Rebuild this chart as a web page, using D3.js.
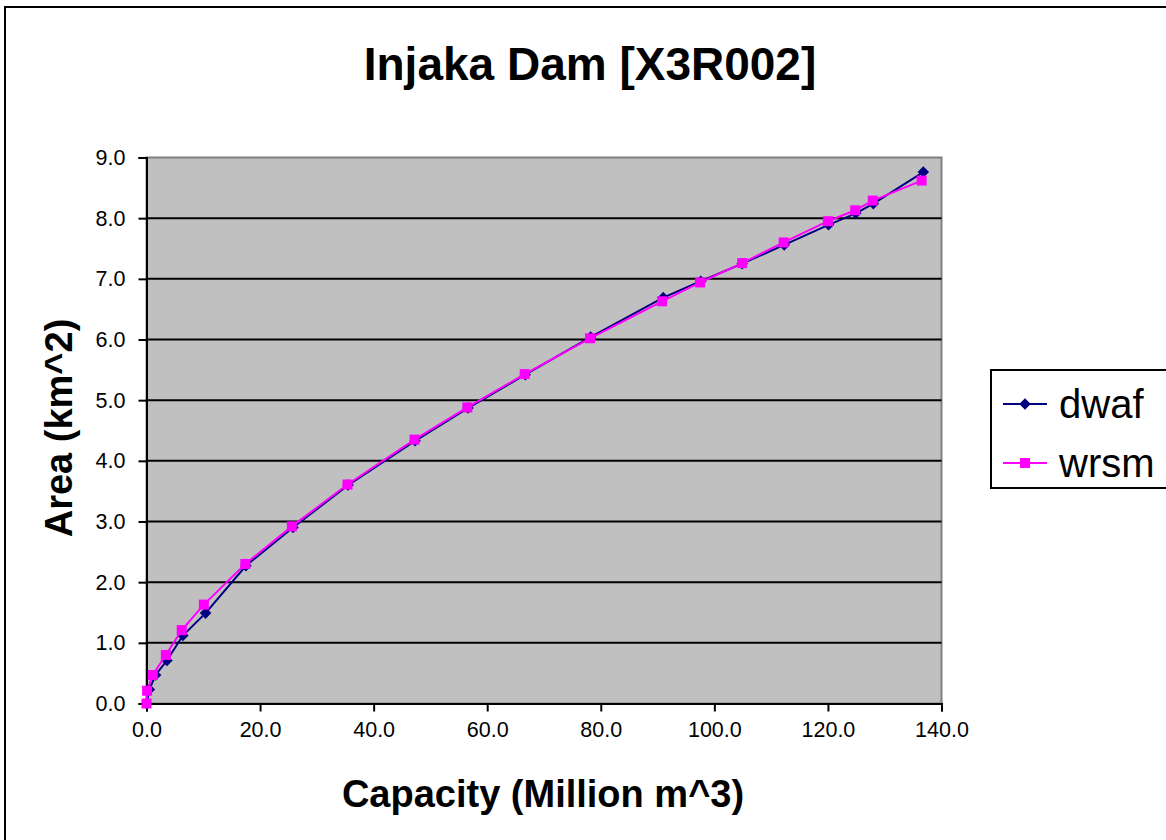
<!DOCTYPE html>
<html>
<head>
<meta charset="utf-8">
<script src="https://cdn.jsdelivr.net/npm/d3@7"></script>
<style>
  body { margin: 0; background: #fff; }
  svg { display: block; font-family: "Liberation Sans", Arial, sans-serif; }
</style>
</head>
<body>
<svg id="chart" width="1166" height="840"></svg>
<script>
'use strict';

// data
const title = "Injaka Dam [X3R002]";
const xTitle = "Capacity (Million m^3)";
const yTitle = "Area (km^2)";
const xTicks = [0, 20, 40, 60, 80, 100, 120, 140];
const yTicks = [0, 1, 2, 3, 4, 5, 6, 7, 8, 9];

const dwafCap  = [0, 0.5, 1.6, 3.6, 6.4, 10.4, 17.5, 25.8, 35.5, 47.3, 56.6, 66.7, 78.2, 91.0, 97.6, 104.9, 112.3, 120.1, 124.9, 128.0, 136.8];
const dwafArea = [0, 0.23, 0.47, 0.71, 1.12, 1.49, 2.27, 2.90, 3.60, 4.33, 4.87, 5.42, 6.04, 6.69, 6.96, 7.25, 7.56, 7.89, 8.08, 8.24, 8.76];
const wrsmCap  = [0, 0.1, 1.1, 3.4, 6.2, 10.1, 17.4, 25.6, 35.4, 47.2, 56.5, 66.6, 78.1, 90.8, 97.5, 104.9, 112.2, 120.0, 124.8, 127.9, 136.5];
const wrsmArea = [0, 0.21, 0.47, 0.80, 1.21, 1.63, 2.30, 2.92, 3.61, 4.35, 4.88, 5.43, 6.02, 6.63, 6.94, 7.26, 7.60, 7.95, 8.13, 8.29, 8.62];

const series = [
  { name: "dwaf", color: "#000080", marker: "diamond", xs: dwafCap, ys: dwafArea },
  { name: "wrsm", color: "#ff00ff", marker: "square", xs: wrsmCap, ys: wrsmArea }
];

(function () {
  const svg = d3.select("#chart");

  // outer chart frame (runs past the right and bottom edge)
  svg.append("rect")
    .attr("x", 5).attr("y", 7)
    .attr("width", 1300).attr("height", 1000)
    .attr("fill", "#fff")
    .attr("stroke", "#000").attr("stroke-width", 2);

  const x = d3.scaleLinear().domain([0, 140]).range([146.5, 941.5]);
  const y = d3.scaleLinear().domain([0, 9]).range([703.5, 157.5]);

  // plot area
  svg.append("rect")
    .attr("x", x(0)).attr("y", y(9))
    .attr("width", x(140) - x(0)).attr("height", y(0) - y(9))
    .attr("fill", "#c0c0c0")
    .attr("stroke", "#808080").attr("stroke-width", 2);

  // grid
  svg.append("g").selectAll("line")
    .data(yTicks.filter(d => d > 0 && d < 9))
    .enter().append("line")
      .attr("x1", x(0)).attr("x2", x(140))
      .attr("y1", d => y(d)).attr("y2", d => y(d))
      .attr("stroke", "#000").attr("stroke-width", 2);

  // axes
  const yAxis = svg.append("g")
    .attr("transform", `translate(${x(0)},0)`)
    .call(d3.axisLeft(y).tickValues(yTicks).tickFormat(d3.format(".1f")).tickSize(8).tickPadding(13));
  const xAxis = svg.append("g")
    .attr("transform", `translate(0,${y(0)})`)
    .call(d3.axisBottom(x).tickValues(xTicks).tickFormat(d3.format(".1f")).tickSize(8).tickPadding(10));

  [yAxis, xAxis].forEach(a => {
    a.select(".domain").attr("stroke", "#000").attr("stroke-width", 2);
    a.selectAll(".tick line").attr("stroke", "#000").attr("stroke-width", 2);
    a.selectAll(".tick text")
      .attr("fill", "#000")
      .style("font-size", "21.5px")
      .style("font-family", "'Liberation Sans', Arial, sans-serif");
  });

  const diamond = d3.symbol().type(d3.symbolDiamond2).size(85);
  const square = d3.symbol().type(d3.symbolSquare).size(100);

  // series
  series.forEach(s => {
    const pts = s.xs.map((v, i) => [v, s.ys[i]]);
    const line = d3.line().x(d => x(d[0])).y(d => y(d[1]));
    svg.append("path")
      .datum(pts)
      .attr("d", line)
      .attr("fill", "none")
      .attr("stroke", s.color)
      .attr("stroke-width", 2);
    svg.append("g").selectAll("path")
      .data(pts)
      .enter().append("path")
        .attr("transform", d => `translate(${x(d[0])},${y(d[1])})`)
        .attr("d", s.marker === "diamond" ? diamond : square)
        .attr("fill", s.color);
  });

  // title
  svg.append("text")
    .attr("x", 590).attr("y", 80)
    .attr("text-anchor", "middle")
    .style("font-size", "46px").style("font-weight", "bold")
    .text(title);

  svg.append("text")
    .attr("x", 543).attr("y", 807)
    .attr("text-anchor", "middle")
    .style("font-size", "38px").style("font-weight", "bold")
    .text(xTitle);

  svg.append("text")
    .attr("transform", "translate(72,428) rotate(-90)")
    .attr("text-anchor", "middle")
    .style("font-size", "38px").style("font-weight", "bold")
    .text(yTitle);

  // legend
  const legend = svg.append("g");
  legend.append("rect")
    .attr("x", 991).attr("y", 370)
    .attr("width", 300).attr("height", 118)
    .attr("fill", "#fff")
    .attr("stroke", "#000").attr("stroke-width", 2);
  const rowY = [404, 463];
  series.forEach((s, i) => {
    const g = legend.append("g").attr("transform", `translate(0,${rowY[i]})`);
    g.append("line")
      .attr("x1", 1003).attr("x2", 1047)
      .attr("stroke", s.color).attr("stroke-width", 2);
    g.append("path")
      .attr("transform", "translate(1025,0)")
      .attr("d", s.marker === "diamond" ? diamond : square)
      .attr("fill", s.color);
    g.append("text")
      .attr("x", 1059).attr("y", 14)
      .style("font-size", "40px")
      .text(s.name);
  });
})();
</script>
</body>
</html>
